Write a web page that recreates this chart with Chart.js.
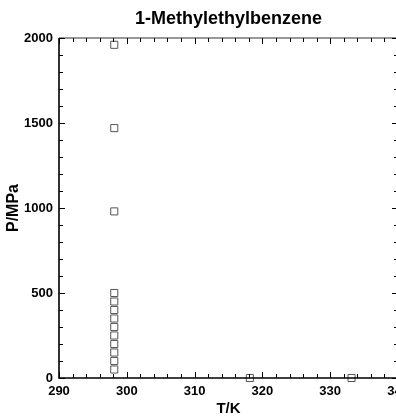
<!DOCTYPE html>
<html>
<head>
<meta charset="utf-8">
<title>1-Methylethylbenzene</title>
<script src="https://cdn.jsdelivr.net/npm/chart.js@4/dist/chart.umd.min.js"></script>
<style>
    html, body { margin: 0; padding: 0; background: #fff; overflow: hidden; }
    #wrap { width: 396px; height: 417px; overflow: hidden; }
</style>
</head>
<body>
<div id="wrap"><canvas id="chart" width="420" height="417"></canvas></div>
<script>
// Dados medidos (T em K, P em MPa)
const temperatures = [298.15, 298.15, 298.15, 298.15, 298.15, 298.15, 298.15, 298.15, 298.15, 298.15, 298.15, 298.15, 298.15, 318.15, 333.15];
const pressures = [50, 100, 150, 200, 250, 300, 350, 400, 450, 500, 980, 1470, 1960, 0.1, 0.1];
const xTicks = [290, 300, 310, 320, 330, 340];
const yTicks = [0, 500, 1000, 1500, 2000];

const labelFont = { family: 'Liberation Sans, Arial, sans-serif', size: 13, weight: 'bold' };

// Moldura e marcas internas (principais e secundárias) nos quatro lados
const framePlugin = {
    id: 'frame',
    afterDraw(chart) {
        const ctx = chart.ctx;
        const area = chart.chartArea;
        const x = chart.scales.x;
        const y = chart.scales.y;
        ctx.save();
        ctx.strokeStyle = '#000';

        // eixos
        ctx.lineWidth = 1.6;
        ctx.beginPath();
        ctx.moveTo(area.left, area.top);
        ctx.lineTo(area.left, area.bottom);
        ctx.lineTo(area.right, area.bottom);
        ctx.stroke();
        ctx.lineWidth = 1.2;
        ctx.strokeStyle = '#333';
        ctx.beginPath();
        ctx.moveTo(area.left, area.top);
        ctx.lineTo(area.right, area.top);
        ctx.lineTo(area.right, area.bottom);
        ctx.stroke();

        ctx.strokeStyle = '#000';
        ctx.lineWidth = 1;
        ctx.beginPath();
        for (let t = xTicks[0]; t <= xTicks[xTicks.length - 1]; t += 2) {
            const len = (t % 10 === 0) ? 6 : 4;
            const px = Math.round(x.getPixelForValue(t)) + 0.5;
            ctx.moveTo(px, area.bottom);
            ctx.lineTo(px, area.bottom - len);
            ctx.moveTo(px, area.top);
            ctx.lineTo(px, area.top + len);
        }
        for (let p = yTicks[0]; p <= yTicks[yTicks.length - 1]; p += 100) {
            const len = (p % 500 === 0) ? 6 : 4;
            const py = Math.round(y.getPixelForValue(p)) + 0.5;
            ctx.moveTo(area.left, py);
            ctx.lineTo(area.left + len, py);
            ctx.moveTo(area.right, py);
            ctx.lineTo(area.right - len, py);
        }
        ctx.stroke();

        // títulos
        ctx.fillStyle = '#000';
        ctx.textAlign = 'center';
        ctx.textBaseline = 'alphabetic';
        ctx.font = 'bold 18px Liberation Sans, Arial, sans-serif';
        ctx.fillText('1-Methylethylbenzene', (area.left + area.right) / 2, 24);
        ctx.font = 'bold 15px Liberation Sans, Arial, sans-serif';
        ctx.fillText('T/K', (area.left + area.right) / 2, 413);
        ctx.font = 'bold 16px Liberation Sans, Arial, sans-serif';
        ctx.translate(17.5, (area.top + area.bottom) / 2);
        ctx.rotate(-Math.PI / 2);
        ctx.fillText('P/MPa', 0, 0);
        ctx.restore();
    }
};

const points = temperatures.map((t, i) => ({ x: t, y: pressures[i] }));

new Chart(document.getElementById('chart'), {
    type: 'scatter',
    data: {
        datasets: [{
            data: points,
            pointStyle: 'rect',
            pointRadius: 5,
            pointHoverRadius: 5,
            pointBorderWidth: 1,
            pointBorderColor: '#555',
            pointBackgroundColor: 'rgba(255,255,255,0)',
            clip: false
        }]
    },
    options: {
        responsive: false,
        animation: false,
        layout: { padding: { top: 38, right: 22, left: 0, bottom: 0 } },
        plugins: {
            legend: { display: false },
            tooltip: { enabled: false }
        },
        scales: {
            x: {
                type: 'linear',
                min: 290,
                max: 340,
                afterBuildTicks: scale => { scale.ticks = xTicks.map(v => ({ value: v })); },
                afterFit: scale => { scale.height = 39; },
                grid: { display: false, drawTicks: false },
                border: { display: false },
                ticks: { font: labelFont, color: '#000', padding: 6, maxRotation: 0, callback: v => String(v) }
            },
            y: {
                type: 'linear',
                min: 0,
                max: 2000,
                afterBuildTicks: scale => { scale.ticks = yTicks.map(v => ({ value: v })); },
                afterFit: scale => { scale.width = 59; },
                grid: { display: false, drawTicks: false },
                border: { display: false },
                ticks: { font: labelFont, color: '#000', padding: 6, callback: v => String(v) }
            }
        }
    },
    plugins: [framePlugin]
});
</script>
</body>
</html>
